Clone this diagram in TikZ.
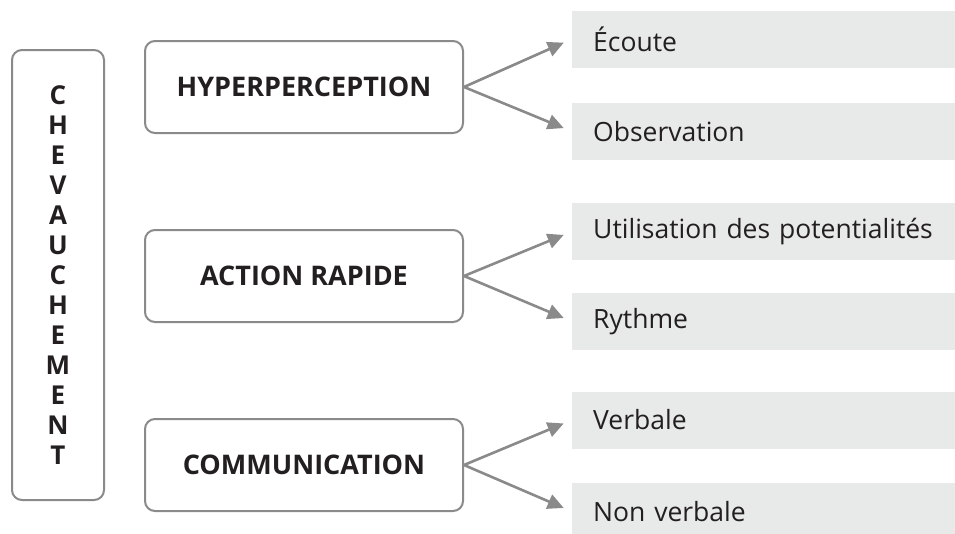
\documentclass[tikz,border=0pt]{standalone}
\usepackage{fontspec}
\setmainfont{Open Sans}
\usetikzlibrary{arrows.meta}

\definecolor{framegray}{RGB}{138,138,138}
\definecolor{leafgray}{RGB}{232,233,233}
\definecolor{inkdark}{RGB}{35,31,32}

\tikzset{
    mainbox/.style={draw=framegray, line width=2pt, rounded corners=10pt, fill=white,
        minimum width=318pt, minimum height=92pt, text=inkdark,
        font=\bfseries\fontsize{27}{32}\selectfont},
    leafbox/.style={fill=leafgray, minimum height=57pt, text width=370pt, inner xsep=21pt,
        align=left, text=inkdark, font=\fontsize{26.5}{30}\selectfont},
    branch/.style={draw=framegray, line width=2.6pt, shorten >=9pt,
        -{Triangle[length=16pt,width=15pt]}}
}

\begin{document}
\begin{tikzpicture}[x=1pt,y=-1pt]
            \useasboundingbox (0,0) rectangle (955,533);

            %left column
            \node[draw=framegray, line width=2pt, rounded corners=10pt, minimum width=92pt,
                minimum height=450pt, align=center, text=inkdark,
                font=\bfseries\fontsize{26}{30}\selectfont] (chev) at (58,275)
                {C\\H\\E\\V\\A\\U\\C\\H\\E\\M\\E\\N\\T};

            %middle boxes
            \node[mainbox] (hyper) at (304,87) {HYPERPERCEPTION};

            \node[mainbox] (action) at (304,276) {ACTION RAPIDE};

            \node[mainbox] (comm) at (304,465) {COMMUNICATION};

            %right boxes
            \node[leafbox, anchor=west] (ecoute) at (572,39) {Écoute};

            \node[leafbox, anchor=west] (observ) at (572,131.5) {Observation};

            \node[leafbox, anchor=west] (utilis) at (572,231.5) {Utilisation des potentialités};

            \node[leafbox, anchor=west] (rythme) at (572,321.5) {Rythme};

            \node[leafbox, anchor=west] (verbal) at (572,420) {Verbale};

            \node[leafbox, anchor=west] (nonverbal) at (572,511.5) {Non verbale};

            %arrows
            \draw[branch] (hyper.east) -- (ecoute.west);

            \draw[branch] (hyper.east) -- (observ.west);

            \draw[branch] (action.east) -- (utilis.west);

            \draw[branch] (action.east) -- (rythme.west);

            \draw[branch] (comm.east) -- (verbal.west);

            \draw[branch] (comm.east) -- (nonverbal.west);
        \end{tikzpicture}
\end{document}
